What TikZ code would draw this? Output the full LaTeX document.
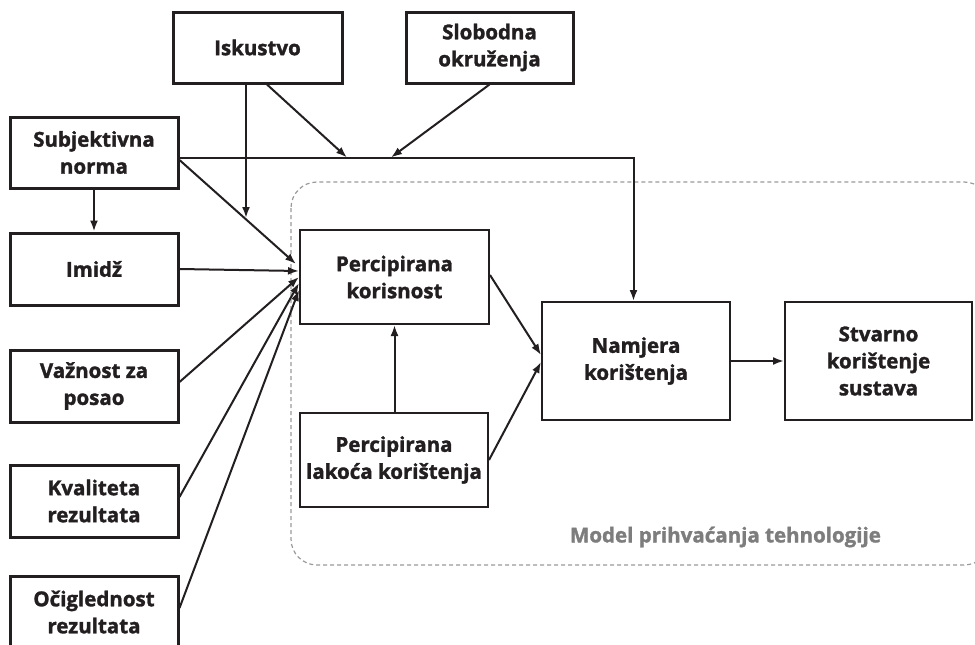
\documentclass[tikz,border=0pt]{standalone}
\usepackage{fontspec}
\setmainfont{Open Sans}
\newfontface\boxfont{Open Sans}[UprightFont={* Bold},FakeBold=1.5]
\usetikzlibrary{arrows.meta,calc}
\definecolor{ink}{HTML}{231F20}
\definecolor{lbl}{HTML}{7D7D7D}
\definecolor{dash}{HTML}{9A9A9A}
\tikzset{
  outerbox/.style={draw=ink,line width=3pt,minimum width=#1,align=center,inner sep=0pt,font=\boxfont\fontsize{20.5}{27}\selectfont,text=ink},
  innerbox/.style={draw=ink,line width=2pt,minimum width=#1,align=center,inner sep=0pt,font=\boxfont\fontsize{20.5}{27}\selectfont,text=ink},
  arr/.style={draw=ink,line width=2pt,-{Latex[length=11pt,width=8pt]}},
  modelframe/.style={draw=dash,line width=1.2pt,dash pattern=on 4pt off 3pt,rounded corners=26pt},
}
\begin{document}
\begin{tikzpicture}[x=1pt,y=-1pt]
\clip (0,0) rectangle (975,645);
\fill[white] (0,0) rectangle (975,645);
% model frame
\draw[modelframe] (291,182) rectangle (990,565);
\node[text=lbl,font=\boxfont\fontsize{20.5}{27}\selectfont] (mlabel) at (725.5,537) {Model prihvaćanja tehnologije};
% outer boxes
\node[outerbox=169pt,minimum height=71pt] (isk) at (257.5,47.5) {Iskustvo};
\node[outerbox=167pt,minimum height=71pt] (slo) at (489.5,47.5) {Slobodna\\okruženja};
\node[outerbox=168pt,minimum height=71pt] (sub) at (94,152.5) {Subjektivna\\norma};
\node[outerbox=168pt,minimum height=72pt] (imi) at (94,269) {Imidž};
\node[outerbox=168pt,minimum height=72pt] (vaz) at (94,386) {Važnost za\\posao};
\node[outerbox=168pt,minimum height=72pt] (kva) at (94,501) {Kvaliteta\\rezultata};
\node[outerbox=168pt,minimum height=72pt] (oci) at (94,612) {Očiglednost\\rezultata};
% inner boxes
\node[innerbox=189pt,minimum height=94pt] (kor) at (394.5,277) {Percipirana\\korisnost};
\node[innerbox=188pt,minimum height=94pt] (lak) at (394,460) {Percipirana\\lakoća korištenja};
\node[innerbox=188pt,minimum height=118pt] (nam) at (636,361) {Namjera\\korištenja};
\node[innerbox=187pt,minimum height=118pt] (stv) at (878.5,361) {Stvarno\\korištenje\\sustava};
% junction coordinates
\coordinate (subR) at (178,158);
\coordinate (corner) at (633.5,158);
\coordinate (ja) at (347,157.5);
\coordinate (jb) at (391,157.5);
\coordinate (jc) at (246,218);
% connectors
\draw[arr] (subR) -- (corner) -- (nam.north -| corner);
\draw[arr] ($(isk.south)+(9.5,0)$) -- (ja);
\draw[arr] (slo.south) -- (jb);
\draw[arr] (isk.south -| jc) -- (jc);
\draw[arr] (sub.south) -- (imi.north);
\draw[arr] ($(sub.east)+(0,7.5)$) -- ($(kor.west)+(-3,-13)$);
\draw[arr] ($(imi.east)+(0,0)$) -- ($(kor.west)+(0,-6)$);
\draw[arr] ($(vaz.east)+(0,-4)$) -- ($(kor.west)+(0,0)$);
\draw[arr] ($(kva.east)+(0,-4)$) -- ($(kor.west)+(0,6)$);
\draw[arr] ($(oci.east)+(0,-4)$) -- ($(kor.west)+(0,13)$);
\draw[arr] ($(kor.east)+(0,-2)$) -- ($(nam.west)+(0,-6)$);
\draw[arr] (lak.east) -- ($(nam.west)+(0,1)$);
\draw[arr] (lak.north -| kor.south) -- (kor.south);
\draw[arr] (nam.east) -- (stv.west);
\end{tikzpicture}
\end{document}
